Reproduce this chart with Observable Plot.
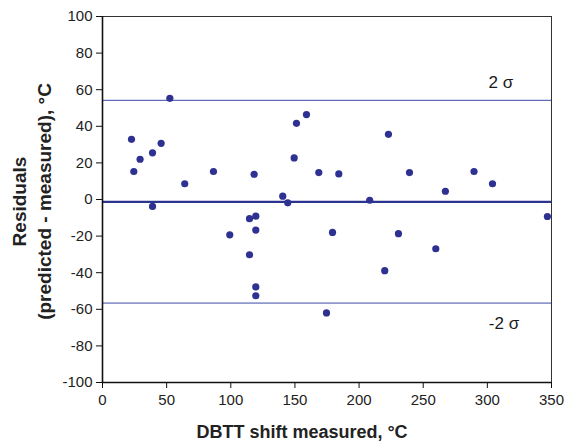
<!DOCTYPE html>
<html>
<head>
<meta charset="utf-8">
<script src="https://cdn.jsdelivr.net/npm/d3@7"></script>
<script src="https://cdn.jsdelivr.net/npm/@observablehq/plot@0.6"></script>
<style>
  html, body { margin: 0; padding: 0; background: #fff; }
  svg { font-family: "Liberation Sans", Arial, sans-serif; }
</style>
</head>
<body>
<div id="chart"></div>
<script>
// measured DBTT shift (°C)
const shift = [22.6, 24.4, 29.3, 39.0, 45.7, 52.5, 64.1, 86.5, 118.2, 140.5, 144.4, 149.4, 151.2, 159.0, 168.6,
  184.2, 222.9, 239.3, 289.6, 304.0, 267.3, 208.3,
  39.0, 99.2, 114.6, 119.5, 119.5, 114.6, 119.5, 119.5, 174.6, 179.3,
  230.7, 220.0, 259.8, 346.8];
// residuals (predicted - measured), °C
const residual = [32.9, 15.3, 22.0, 25.5, 30.7, 55.3, 8.6, 15.3, 13.8, 1.8, -1.8, 22.7, 41.6, 46.4, 14.7,
  14.0, 35.6, 14.7, 15.3, 8.6, 4.5, -0.4,
  -3.8, -19.3, -10.5, -9.1, -16.7, -30.2, -47.8, -52.6, -62.0, -18.0,
  -18.7, -38.9, -26.9, -9.3];
const meanResidual = -1.3;
const sigmaLines = [54.2, -56.6];
const sigmaLabels = ["2 σ", "-2 σ"];
const sigmaLabelX = [310.5, 313];
const sigmaLabelY = [63.8, -67.6];
const xTicks = [0, 50, 100, 150, 200, 250, 300, 350];
const yTicks = [-100, -80, -60, -40, -20, 0, 20, 40, 60, 80, 100];

const points = shift.map((s, i) => ({shift: s, residual: residual[i]}));
const labels = sigmaLabels.map((t, i) => ({text: t, x: sigmaLabelX[i], y: sigmaLabelY[i]}));
const fmt = d => String(d);

const chart = Plot.plot({
  width: 565,
  height: 442,
  marginLeft: 102,
  marginRight: 14,
  marginTop: 16,
  marginBottom: 60,
  x: {domain: [0, 350], ticks: xTicks},
  y: {domain: [-100, 100], ticks: yTicks},
  marks: [
    Plot.frame({stroke: "#333", strokeWidth: 1}),
    Plot.ruleY(sigmaLines, {stroke: "#3b4aa8", strokeWidth: 1}),
    Plot.ruleY([meanResidual], {stroke: "#2b3590", strokeWidth: 2.2}),
    Plot.dot(points, {x: "shift", y: "residual", r: 3.6, fill: "#2e3192", stroke: "none"}),
    Plot.text(labels, {x: "x", y: "y", text: "text", fontSize: 17, fill: "#1a1a1a", textAnchor: "middle"}),
    Plot.ruleX([0], {stroke: "#111", strokeWidth: 1.6}),
    Plot.ruleY([-100], {stroke: "#111", strokeWidth: 1.6}),
    Plot.axisX({ticks: xTicks, tickFormat: fmt, tickSize: 6, tickPadding: 6, fontSize: 15, label: null, stroke: "#111", fill: "#222"}),
    Plot.axisY({ticks: yTicks, tickFormat: fmt, tickSize: 6, tickPadding: 4, fontSize: 15, label: null, stroke: "#111", fill: "#222"}),
    Plot.text(["DBTT shift measured, °C"], {frameAnchor: "bottom", dx: -25, dy: 50, textAnchor: "middle", lineAnchor: "middle", fontSize: 18, fontWeight: "bold", fill: "#222"}),
    Plot.text(["Residuals"], {frameAnchor: "left", dx: -83, dy: 2, rotate: -90, textAnchor: "middle", lineAnchor: "middle", fontSize: 19, fontWeight: "bold", fill: "#222"}),
    Plot.text(["(predicted - measured), °C"], {frameAnchor: "left", dx: -58, dy: 2, rotate: -90, textAnchor: "middle", lineAnchor: "middle", fontSize: 19, fontWeight: "bold", fill: "#222"})
  ]
});
document.getElementById("chart").appendChild(chart);
</script>
</body>
</html>
